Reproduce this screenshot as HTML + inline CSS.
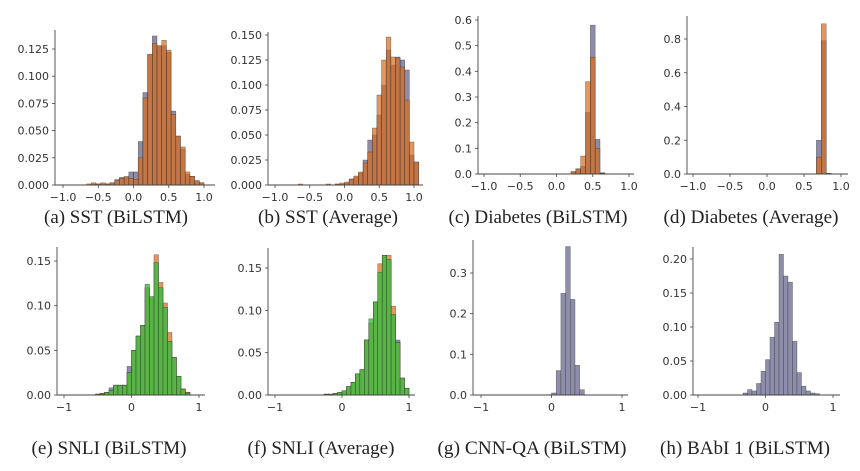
<!DOCTYPE html>
<html><head><meta charset="utf-8"><style>
html,body{margin:0;padding:0;background:#fff;}
svg{display:block;}
.tick{font-family:"DejaVu Sans","Liberation Sans",sans-serif;font-size:11px;fill:#333;}
.cap{font-family:"Liberation Serif",serif;font-size:18.5px;fill:#222;}
</style></head><body>
<svg id="fig" width="860" height="471" viewBox="0 0 860 471" xmlns="http://www.w3.org/2000/svg"></svg>
<script>
// Bins: 30 bins of width 1/15; index i covers [-1+(i+1)/15, -1+(i+2)/15]
const aBlue   = [0,0,0,0,0,0.001,0.001,0.001,0.001,0.002,0.005,0.007,0.007,0.012,0.012,0.04,0.085,0.12,0.137,0.128,0.128,0.122,0.068,0.045,0.033,0.01,0.008,0.004,0.002,0];
const aOrange = [0,0,0,0,0.001,0.002,0.001,0.002,0.001,0.002,0.004,0.006,0.008,0.006,0.005,0.025,0.08,0.12,0.13,0.128,0.133,0.124,0.065,0.045,0.035,0.012,0.008,0.004,0.002,0];
const bBlue   = [0,0,0,0,0,0,0,0,0,0,0,0,0.001,0.001,0.002,0.006,0.008,0.012,0.025,0.045,0.05,0.07,0.1,0.135,0.12,0.128,0.125,0.115,0.03,0.023];
const bOrange = [0,0,0,0,0.001,0,0,0,0,0,0.001,0,0.001,0.002,0.003,0.006,0.009,0.013,0.022,0.033,0.057,0.09,0.125,0.148,0.128,0.127,0.118,0.085,0.043,0.023];
const cBlue   = [0,0,0,0,0,0,0,0,0,0,0,0,0,0,0,0,0,0.008,0.02,0.03,0.24,0.58,0.135,0.005,0,0,0,0,0,0];
const cOrange = [0,0,0,0,0,0,0,0,0,0,0,0,0,0,0,0,0,0.01,0.02,0.07,0.36,0.455,0.1,0.003,0,0,0,0,0,0];
const dBlue   = [0,0,0,0,0,0,0,0,0,0,0,0,0,0,0,0,0,0,0,0,0,0,0,0,0.2,0.79,0.005,0,0,0];
const dOrange = [0,0,0,0,0,0,0,0,0,0,0,0,0,0,0,0,0,0,0,0,0,0,0,0,0.1,0.89,0.003,0,0,0];
const eBlue   = [0,0,0,0,0,0,0.001,0.002,0.003,0.008,0.011,0.011,0.011,0.032,0.05,0.066,0.078,0.12,0.11,0.148,0.12,0.098,0.06,0.042,0.021,0.006,0.003,0,0,0];
const eOrange = [0,0,0,0,0,0,0.001,0.002,0.003,0.005,0.011,0.011,0.011,0.025,0.05,0.066,0.078,0.12,0.11,0.157,0.126,0.103,0.07,0.042,0.021,0.007,0.003,0,0,0];
const eGreen  = [0,0,0,0,0,0,0.001,0.001,0.003,0.005,0.011,0.011,0.011,0.025,0.05,0.066,0.078,0.124,0.11,0.148,0.12,0.098,0.06,0.042,0.021,0.006,0.002,0,0,0];
const fBlue   = [0,0,0,0,0,0,0,0,0,0,0.001,0.001,0.002,0.003,0.005,0.01,0.015,0.025,0.03,0.065,0.085,0.11,0.145,0.165,0.16,0.095,0.065,0.02,0.008,0];
const fOrange = [0,0,0,0,0,0,0,0,0,0,0.001,0.001,0.002,0.003,0.005,0.01,0.015,0.025,0.03,0.065,0.085,0.11,0.155,0.165,0.165,0.105,0.062,0.02,0.008,0];
const fGreen  = [0,0,0,0,0,0,0,0,0,0,0.001,0.001,0.002,0.003,0.005,0.01,0.015,0.025,0.03,0.065,0.09,0.11,0.145,0.165,0.16,0.095,0.062,0.02,0.008,0];
const gBlue   = [0,0,0,0,0,0,0,0,0,0,0,0,0,0.001,0.005,0.06,0.25,0.365,0.235,0.073,0.013,0,0,0,0,0,0,0,0,0];
const hBlue   = [0,0,0,0,0,0,0,0,0,0.003,0.008,0.006,0.017,0.035,0.052,0.085,0.107,0.207,0.175,0.166,0.079,0.033,0.013,0.006,0.003,0.002,0,0,0,0];
const xTicksFine   = [-1.0,-0.5,0.0,0.5,1.0];
const xTickLabelsFine = ["\u22121.0","\u22120.5","0.0","0.5","1.0"];
const xTicksCoarse = [-1,0,1];
const xTickLabelsCoarse = ["\u22121","0","1"];
const yTicksA = [0,0.025,0.05,0.075,0.1,0.125];
const yTicksB = [0,0.025,0.05,0.075,0.1,0.125,0.15];
const yTicksC = [0,0.1,0.2,0.3,0.4,0.5,0.6];
const yTicksD = [0,0.2,0.4,0.6,0.8];
const yTicksE = [0,0.05,0.1,0.15];
const yTicksG = [0,0.1,0.2,0.3];
const yTicksH = [0,0.05,0.1,0.15,0.2];
const captions = ["(a) SST (BiLSTM)","(b) SST (Average)","(c) Diabetes (BiLSTM)","(d) Diabetes (Average)","(e) SNLI (BiLSTM)","(f) SNLI (Average)","(g) CNN-QA (BiLSTM)","(h) BAbI 1 (BiLSTM)"];

const NS="http://www.w3.org/2000/svg";
const svg=document.getElementById('fig');
function mk(tag,attrs,parent){const e=document.createElementNS(NS,tag);for(const k in attrs)e.setAttribute(k,attrs[k]);(parent||svg).appendChild(e);return e;}

const COL={blue:'rgba(70,70,115,0.62)',orange:'rgba(215,110,35,0.72)',green:'rgba(70,190,70,0.85)',blueOnly:'#8e8eab'};

const panels=[
 {id:'a',left:55,top:30,right:215,xm1:63,xp1:204,y0:185,refV:0.125,refY:49,yt:yTicksA,dec:3,fine:true,series:[['blue',aBlue],['orange',aOrange]],capX:116,capY:223,capW:144},
 {id:'b',left:268,top:32,right:423,xm1:275,xp1:414,y0:185,refV:0.15,refY:35,yt:yTicksB,dec:3,fine:true,series:[['blue',bBlue],['orange',bOrange]],capX:328,capY:223,capW:140},
 {id:'c',left:478,top:16,right:634,xm1:484,xp1:629,y0:174,refV:0.6,refY:20,yt:yTicksC,dec:1,fine:true,series:[['blue',cBlue],['orange',cOrange]],capX:538,capY:223,capW:179},
 {id:'d',left:687,top:16,right:848,xm1:693,xp1:841,y0:174,refV:0.8,refY:39,yt:yTicksD,dec:1,fine:true,series:[['blue',dBlue],['orange',dOrange]],capX:751,capY:223,capW:175},
 {id:'e',left:57,top:247,right:205,xm1:64,xp1:199,y0:395,refV:0.15,refY:261,yt:yTicksE,dec:2,fine:false,series:[['blue',eBlue],['orange',eOrange],['green',eGreen]],capX:109,capY:454,capW:155},
 {id:'f',left:268,top:248,right:415,xm1:275,xp1:409,y0:395,refV:0.15,refY:268,yt:yTicksE,dec:2,fine:false,series:[['blue',fBlue],['orange',fOrange],['green',fGreen]],capX:321,capY:454,capW:147},
 {id:'g',left:473,top:240,right:628,xm1:481,xp1:622,y0:395,refV:0.3,refY:273,yt:yTicksG,dec:1,fine:false,series:[['blueOnly',gBlue]],capX:532,capY:454,capW:189},
 {id:'h',left:693,top:247,right:840,xm1:698,xp1:833,y0:395,refV:0.2,refY:259,yt:yTicksH,dec:2,fine:false,series:[['blueOnly',hBlue]],capX:745,capY:454,capW:170}
];

panels.forEach((p,pi)=>{
  const g=mk('g',{});
  
  
  const xs=v=>p.xm1+(v+1)/2*(p.xp1-p.xm1);
  const ys=v=>p.y0-v/p.refV*(p.y0-p.refY);
  p.series.forEach(([name,vals])=>{
    const sg=mk('g',{},g);
    
    
    vals.forEach((v,i)=>{
      if(v<=0)return;
      const x0=xs(-1+(i+1)/15),x1=xs(-1+(i+2)/15);
      const r=mk('rect',{x:x0,y:ys(v),width:x1-x0,height:p.y0-ys(v),fill:COL[name],stroke:'rgba(30,30,30,0.55)','stroke-width':0.5},sg);
      
      
    });
  });
  const ly=mk('line',{x1:p.left,y1:p.top,x2:p.left,y2:p.y0,stroke:'#444','stroke-width':0.9},g);
  
  
  const lx=mk('line',{x1:p.left,y1:p.y0,x2:p.right,y2:p.y0,stroke:'#444','stroke-width':0.9},g);
  
  
  p.yt.forEach(v=>{
    mk('line',{x1:p.left-3,y1:ys(v),x2:p.left,y2:ys(v),stroke:'#444','stroke-width':0.8},g);
    const t=mk('text',{x:p.left-6,y:ys(v)+4,'text-anchor':'end',class:'tick'},g);
    t.textContent=v.toFixed(p.dec);
    
    
  });
  const xt=p.fine?xTicksFine:xTicksCoarse, xl=p.fine?xTickLabelsFine:xTickLabelsCoarse;
  xt.forEach((v,i)=>{
    mk('line',{x1:xs(v),y1:p.y0,x2:xs(v),y2:p.y0+3,stroke:'#444','stroke-width':0.8},g);
    const t=mk('text',{x:xs(v),y:p.y0+16,'text-anchor':'middle',class:'tick'},g);
    t.textContent=xl[i];
    
    
  });
  const c=mk('text',{x:p.capX,y:p.capY,'text-anchor':'middle',class:'cap',textLength:p.capW,lengthAdjust:'spacingAndGlyphs'},g);
  c.textContent=captions[pi];
  
  
});
</script>
</body></html>
